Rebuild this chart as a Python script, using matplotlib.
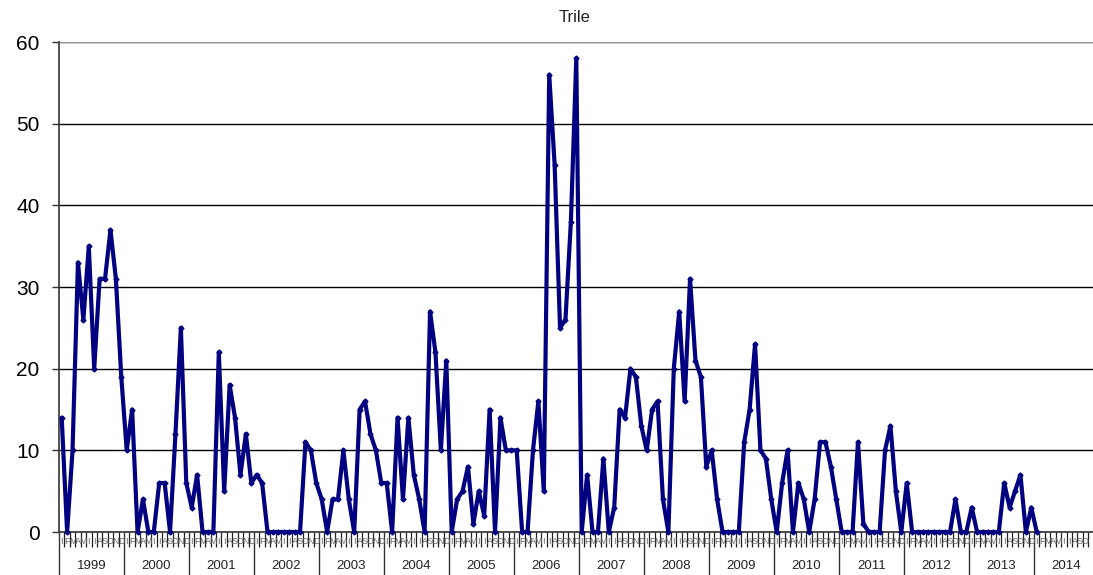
import matplotlib
matplotlib.use("Agg")
import matplotlib.pyplot as plt
import matplotlib.transforms as mtransforms
import numpy as np

plt.rcParams['font.family'] = ['Liberation Sans', 'DejaVu Sans']

title = "Trile"
years = [str(y) for y in range(1999, 2015)]
month_labels = ["I", "F", "M", "A", "M", "I", "I", "A", "S", "O", "N", "D"]

v1999 = [14, 0, 10, 33, 26, 35, 20, 31, 31, 37, 31, 19]
v2000 = [10, 15, 0, 4, 0, 0, 6, 6, 0, 12, 25, 6]
v2001 = [3, 7, 0, 0, 0, 22, 5, 18, 14, 7, 12, 6]
v2002 = [7, 6, 0, 0, 0, 0, 0, 0, 0, 11, 10, 6]
v2003 = [4, 0, 4, 4, 10, 4, 0, 15, 16, 12, 10, 6]
v2004 = [6, 0, 14, 4, 14, 7, 4, 0, 27, 22, 10, 21]
v2005 = [0, 4, 5, 8, 1, 5, 2, 15, 0, 14, 10, 10]
v2006 = [10, 0, 0, 10, 16, 5, 56, 45, 25, 26, 38, 58]
v2007 = [0, 7, 0, 0, 9, 0, 3, 15, 14, 20, 19, 13]
v2008 = [10, 15, 16, 4, 0, 20, 27, 16, 31, 21, 19, 8]
v2009 = [10, 4, 0, 0, 0, 0, 11, 15, 23, 10, 9, 4]
v2010 = [0, 6, 10, 0, 6, 4, 0, 4, 11, 11, 8, 4]
v2011 = [0, 0, 0, 11, 1, 0, 0, 0, 10, 13, 5, 0]
v2012 = [6, 0, 0, 0, 0, 0, 0, 0, 0, 4, 0, 0]
v2013 = [3, 0, 0, 0, 0, 0, 6, 3, 5, 7, 0, 3]
v2014 = [0]

values = (v1999 + v2000 + v2001 + v2002 + v2003 + v2004 + v2005 + v2006 +
          v2007 + v2008 + v2009 + v2010 + v2011 + v2012 + v2013 + v2014)

n_months = 12 * len(years)
W, H = 1093, 575
fig = plt.figure(figsize=(W / 100, H / 100), dpi=100)
left_px, right_px, top_px, bottom_px = 59, 1099, 42, 532
ax = fig.add_axes([left_px / W, 1 - bottom_px / H,
                   (right_px - left_px) / W, (bottom_px - top_px) / H])

x = np.arange(len(values)) + 0.5
ax.plot(x, values, color='#000080', lw=3.0, marker='D', ms=2.5,
        solid_joinstyle='round', solid_capstyle='round', zorder=3, clip_on=False)

ax.set_xlim(0, n_months)
ax.set_ylim(0, 60)
ax.set_yticks(range(0, 61, 10))
ax.yaxis.grid(True, color='black', lw=1.0)
ax.set_axisbelow(True)
for s in ['top', 'right']:
    ax.spines[s].set_visible(False)
ax.spines['left'].set_color('#333333')
ax.spines['bottom'].set_color('#333333')
ax.spines['left'].set_linewidth(1.2)
ax.spines['bottom'].set_linewidth(1.2)
ax.axhline(60, color='#999999', lw=1.5, zorder=1)
ax.tick_params(axis='y', labelsize=15, length=5, width=1, pad=9, color='#333333')

# month ticks (minor) and year separators (major)
ax.set_xticks(np.arange(0, n_months + 1, 12))
ax.set_xticks(np.arange(0, n_months + 1, 1), minor=True)
ax.tick_params(axis='x', which='major', length=31, width=1, color='#333333', labelbottom=False)
ax.tick_params(axis='x', which='minor', length=11, width=0.9, color='#222222', labelbottom=False)

trans = mtransforms.blended_transform_factory(ax.transData, fig.transFigure)
for yi, yr in enumerate(years):
    for m, lab in enumerate(month_labels):
        xm = yi * 12 + m + 0.5
        if left_px + xm * (right_px - left_px) / n_months > W - 6:
            continue
        ax.text(xm, 1 - 542 / H, lab, transform=trans,
                ha='center', va='center', fontsize=6.5, color='#666666', clip_on=False)
    ax.text(yi * 12 + 6, 1 - 566 / H, yr, transform=trans,
            ha='center', va='center', fontsize=9.5, color='#222222', clip_on=False)

fig.text(575 / W, 1 - 17 / H, title, ha='center', va='center', fontsize=12, color='#222222')

fig.savefig('out.png', dpi=100)
